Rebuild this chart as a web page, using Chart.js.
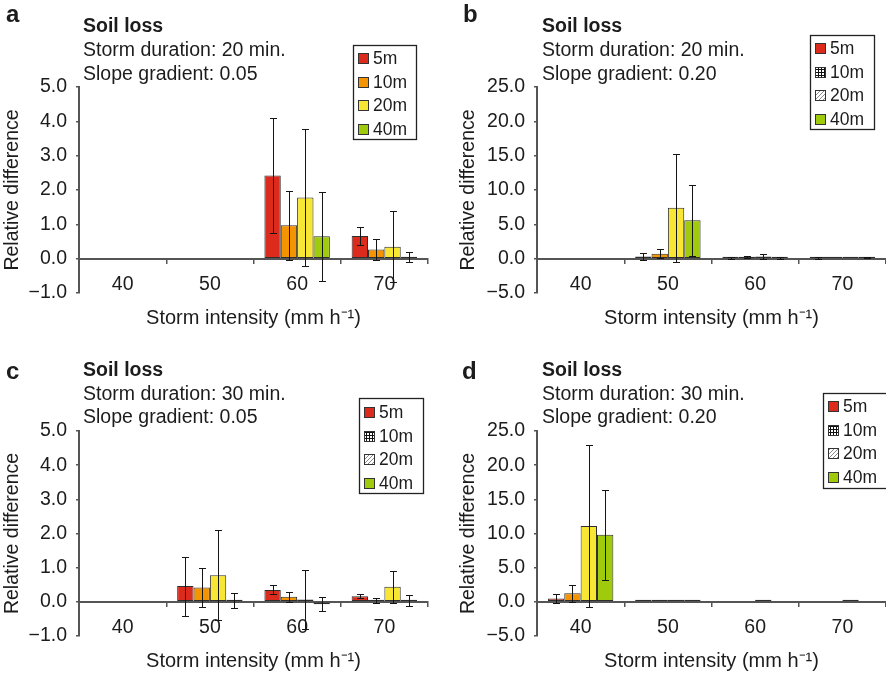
<!DOCTYPE html>
<html>
<head>
<meta charset="utf-8">
<title>Soil loss – relative difference</title>
<script src="https://cdn.jsdelivr.net/npm/chart.js@4.4.1/dist/chart.umd.min.js"></script>
<style>
  html, body { margin: 0; padding: 0; background: #fff; }
  #figure { position: relative; width: 886px; height: 673px; overflow: hidden; }
  #figure canvas { position: absolute; }
</style>
</head>
<body>
<div id="figure">
  <canvas id="chartA" width="443" height="336" style="left:0;top:0"></canvas>
  <canvas id="chartB" width="443" height="336" style="left:443px;top:0"></canvas>
  <canvas id="chartC" width="443" height="337" style="left:0;top:336px"></canvas>
  <canvas id="chartD" width="443" height="337" style="left:443px;top:336px"></canvas>
</div>
<script>
// ===== DATA =====
const categories = ['40', '50', '60', '70'];          // storm intensity (mm h-1)
const seriesLabels = ['5m', '10m', '20m', '40m'];     // slope length

const yTicksLow = [-1, 0, 1, 2, 3, 4, 5];             // slope 0.05
const yTicksHigh = [-5, 0, 5, 10, 15, 20, 25];        // slope 0.20

const durations = ['20', '20', '30', '30'];
const slopes = ['0.05', '0.20', '0.05', '0.20'];

// a : 20 min, slope 0.05  (one row per series: 5m, 10m, 20m, 40m)
const meanA = [
    [null, null, 2.42, 0.66],
    [null, null, 0.97, 0.27],
    [null, null, 1.78, 0.35],
    [null, null, 0.65, 0.04]
];
const sdA = [
    [null, null, 1.68, 0.27],
    [null, null, 1.01, 0.30],
    [null, null, 2.00, 1.04],
    [null, null, 1.30, 0.15]
];

// b : 20 min, slope 0.20
const meanB = [
    [null, 0.30, 0.12, 0.10],
    [null, 0.70, 0.22, 0.04],
    [null, 7.40, 0.32, 0.15],
    [null, 5.60, 0.10, 0.15]
];
const sdB = [
    [null, 0.50, 0.10, 0.10],
    [null, 0.67, 0.10, null],
    [null, 7.90, 0.40, null],
    [null, 5.20, 0.10, 0.05]
];

// c : 30 min, slope 0.05
const meanC = [
    [null, 0.46, 0.35, 0.16],
    [null, 0.42, 0.15, 0.03],
    [null, 0.78, 0.07, 0.44],
    [null, 0.03, -0.07, 0.04]
];
const sdC = [
    [null, 0.86, 0.13, 0.06],
    [null, 0.56, 0.15, 0.07],
    [null, 1.32, 0.87, 0.46],
    [null, 0.22, 0.20, 0.16]
];

// d : 30 min, slope 0.20
const meanD = [
    [0.50, 0.03, null, null],
    [1.25, 0.03, null, null],
    [11.10, 0.22, 0.05, 0.25],
    [9.80, 0.04, null, null]
];
const sdD = [
    [0.65, null, null, null],
    [1.28, null, null, null],
    [11.80, null, null, null],
    [6.60, null, null, null]
];

// ===== STYLE =====
const FONT = '"Liberation Sans", Arial, Helvetica, sans-serif';
const seriesColors = ['#dc2a1c', '#f39400', '#f8e634', '#a0cb0c'];
const AXIS_COLOR = '#555555';
const TEXT_COLOR = '#1c1c1c';

Chart.defaults.font.family = FONT;
Chart.defaults.color = TEXT_COLOR;

// legend swatches used by b, c, d (10m = grid, 20m = hatch)
function gridPattern(ctx) {
    const c = document.createElement('canvas');
    c.width = 3; c.height = 3;
    const g = c.getContext('2d');
    g.fillStyle = '#fff'; g.fillRect(0, 0, 3, 3);
    g.fillStyle = '#111';
    g.fillRect(0, 0, 3, 1);
    g.fillRect(0, 0, 1, 3);
    return ctx.createPattern(c, 'repeat');
}

function hatchPattern(ctx) {
    const c = document.createElement('canvas');
    c.width = 4; c.height = 4;
    const g = c.getContext('2d');
    g.fillStyle = '#fff'; g.fillRect(0, 0, 4, 4);
    g.fillStyle = '#8a8a8a';
    for (let k = 0; k < 4; k++) g.fillRect(k, 3 - k, 1, 1);
    return ctx.createPattern(c, 'repeat');
}

// ===== PLUGINS =====
const errorBarPlugin = {
    id: 'errorBars',
    afterDatasetsDraw(chart) {
        const ctx = chart.ctx;
        const yScale = chart.scales.y;
        ctx.save();
        ctx.strokeStyle = '#151515';
        ctx.lineWidth = 1;
        chart.data.datasets.forEach((ds, i) => {
            const meta = chart.getDatasetMeta(i);
            ds.data.forEach((v, j) => {
                const sd = ds.errors[j];
                if (v === null || !sd) return;
                const x = Math.round(meta.data[j].x) + 0.5;
                const yHi = Math.round(yScale.getPixelForValue(v + sd)) + 0.5;
                const yLo = Math.round(yScale.getPixelForValue(v - sd)) + 0.5;
                ctx.beginPath();
                ctx.moveTo(x, yHi); ctx.lineTo(x, yLo);
                ctx.moveTo(x - 3.5, yHi); ctx.lineTo(x + 3.5, yHi);
                ctx.moveTo(x - 3.5, yLo); ctx.lineTo(x + 3.5, yLo);
                ctx.stroke();
            });
        });
        ctx.restore();
    }
};

const panelTextPlugin = {
    id: 'panelText',
    afterDraw(chart, args, opts) {
        const ctx = chart.ctx;
        ctx.save();
        ctx.fillStyle = TEXT_COLOR;
        ctx.textAlign = 'left';
        ctx.textBaseline = 'alphabetic';
        ctx.font = 'bold 24px ' + FONT;
        ctx.fillText(opts.letter, opts.letterX, opts.letterY);
        ctx.font = 'bold 19.5px ' + FONT;
        ctx.fillText('Soil loss', opts.textX, opts.lines[0]);
        ctx.font = '19.5px ' + FONT;
        ctx.fillText('Storm duration: ' + opts.duration + ' min.', opts.textX, opts.lines[1]);
        ctx.fillText('Slope gradient: ' + opts.slope, opts.textX, opts.lines[2]);
        ctx.restore();
    }
};

const boxLegendPlugin = {
    id: 'boxLegend',
    afterDraw(chart, args, opts) {
        const ctx = chart.ctx;
        const b = opts.box;
        ctx.save();
        ctx.fillStyle = '#fff';
        ctx.fillRect(b.x, b.y, b.w, b.h);
        ctx.strokeStyle = '#222';
        ctx.lineWidth = 1.3;
        ctx.strokeRect(b.x + 0.5, b.y + 0.5, b.w, b.h);
        chart.data.datasets.forEach((ds, i) => {
            const cy = b.y + opts.firstRow + i * opts.rowGap;
            const sx = b.x + 5;
            const sy = Math.round(cy - 5);
            let fill = ds.backgroundColor;
            if (opts.patterned && i === 1) fill = gridPattern(ctx);
            if (opts.patterned && i === 2) fill = hatchPattern(ctx);
            ctx.fillStyle = fill;
            ctx.fillRect(sx, sy, 10, 10);
            ctx.strokeStyle = '#333';
            ctx.lineWidth = 1;
            ctx.strokeRect(sx + 0.5, sy + 0.5, 10, 10);
            ctx.fillStyle = TEXT_COLOR;
            ctx.font = '17.5px ' + FONT;
            ctx.textBaseline = 'middle';
            ctx.fillText(ds.label, b.x + 20, cy + 1);
        });
        ctx.restore();
    }
};

// ===== PANELS =====
const panels = [
    { canvasId: 'chartA', letter: 'a', means: meanA, sds: sdA, yTicks: yTicksLow, patterned: false,
      area: { left: 79, top: 87, right: 428, bottom: 293 }, yTitlePad: 1,
      letterX: 6, letterY: 22, textX: 83, lines: [32, 56, 80],
      legend: { x: 353, y: 45, w: 63, h: 94 }, firstRow: 13 },
    { canvasId: 'chartB', letter: 'b', means: meanB, sds: sdB, yTicks: yTicksHigh, patterned: true,
      area: { left: 94, top: 87, right: 443, bottom: 293 }, yTitlePad: 14,
      letterX: 20, letterY: 22, textX: 99, lines: [32, 56, 80],
      legend: { x: 367, y: 35, w: 64, h: 94 }, firstRow: 13 },
    { canvasId: 'chartC', letter: 'c', means: meanC, sds: sdC, yTicks: yTicksLow, patterned: true,
      area: { left: 79, top: 95, right: 428, bottom: 300 }, yTitlePad: 1,
      letterX: 6, letterY: 43, textX: 83, lines: [40, 63.5, 87],
      legend: { x: 359, y: 62, w: 64, h: 95 }, firstRow: 14 },
    { canvasId: 'chartD', letter: 'd', means: meanD, sds: sdD, yTicks: yTicksHigh, patterned: true,
      area: { left: 94, top: 95, right: 443, bottom: 300 }, yTitlePad: 14,
      letterX: 19, letterY: 43, textX: 99, lines: [40, 63.5, 87],
      legend: { x: 380, y: 57, w: 70, h: 95 }, firstRow: 13 }
];

function formatTick(v) {
    return (v < 0 ? '\u2212' : '') + Math.abs(v).toFixed(1);
}

function buildChart(p, idx) {
    const canvas = document.getElementById(p.canvasId);
    const yTicks = p.yTicks;

    return new Chart(canvas, {
        type: 'bar',
        data: {
            labels: categories,
            datasets: seriesLabels.map((label, i) => ({
                label: label,
                data: p.means[i],
                errors: p.sds[i],
                backgroundColor: seriesColors[i],
                borderColor: '#2e2e2e',
                borderWidth: 1,
                borderSkipped: false,
                minBarLength: 2,
                categoryPercentage: 0.75,
                barPercentage: 1.0
            }))
        },
        options: {
            responsive: false,
            animation: false,
            devicePixelRatio: 1,
            layout: {
                padding: {
                    left: 0,
                    top: p.area.top,
                    right: canvas.width - p.area.right,
                    bottom: canvas.height - p.area.bottom
                }
            },
            plugins: {
                legend: { display: false },
                tooltip: { enabled: false },
                panelText: {
                    letter: p.letter, letterX: p.letterX, letterY: p.letterY,
                    textX: p.textX, lines: p.lines,
                    duration: durations[idx], slope: slopes[idx]
                },
                boxLegend: {
                    box: p.legend, firstRow: p.firstRow, rowGap: 23.7, patterned: p.patterned
                }
            },
            scales: {
                x: {
                    type: 'category',
                    axis: 'x',
                    position: { y: 0 },
                    grid: {
                        offset: true,
                        drawOnChartArea: false,
                        tickLength: 4,
                        color: AXIS_COLOR,
                        lineWidth: 1.5
                    },
                    border: { display: true, color: AXIS_COLOR, width: 2 },
                    ticks: { padding: 10, font: { size: 19.5 }, color: TEXT_COLOR },
                    title: {
                        display: true,
                        text: 'Storm intensity (mm h\u207B\u00B9)',
                        font: { size: 20 },
                        color: TEXT_COLOR,
                        padding: { top: 0, bottom: 0 }
                    }
                },
                y: {
                    min: yTicks[0],
                    max: yTicks[yTicks.length - 1],
                    afterFit: scale => { scale.width = p.area.left; },
                    grid: {
                        drawOnChartArea: false,
                        tickLength: 3,
                        color: AXIS_COLOR,
                        lineWidth: 1.5
                    },
                    border: { display: true, color: AXIS_COLOR, width: 2 },
                    ticks: {
                        stepSize: yTicks[1] - yTicks[0],
                        padding: 9,
                        font: { size: 19.5 },
                        color: TEXT_COLOR,
                        callback: v => formatTick(v)
                    },
                    title: {
                        display: true,
                        text: 'Relative difference',
                        font: { size: 19.5 },
                        color: TEXT_COLOR,
                        padding: { top: p.yTitlePad, bottom: 0 }
                    }
                }
            }
        },
        plugins: [errorBarPlugin, panelTextPlugin, boxLegendPlugin]
    });
}

// ===== INITIALISATION =====
panels.forEach((p, idx) => buildChart(p, idx));
</script>
</body>
</html>
